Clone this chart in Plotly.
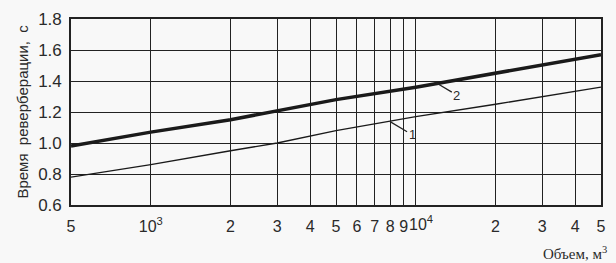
import math
import plotly.graph_objects as go

volumes = [500, 1000, 2000, 3000, 5000, 10000, 20000, 50000]
curve1 = [0.78, 0.86, 0.95, 1.00, 1.08, 1.17, 1.25, 1.36]
curve2 = [0.98, 1.07, 1.15, 1.21, 1.28, 1.36, 1.45, 1.57]

x_tickvals = [500, 1000, 2000, 3000, 4000, 5000, 6000, 7000, 8000, 9000, 10000, 20000, 30000, 40000, 50000]
x_ticktext = ["5", "10<sup>3</sup>", "2", "3", "4", "5", "6", "7", "8", "9", "", "2", "3", "4", "5"]
y_tickvals = [0.6, 0.8, 1.0, 1.2, 1.4, 1.6, 1.8]
y_ticktext = ["0.6", "0.8", "1.0", "1.2", "1.4", "1.6", "1.8"]

fig = go.Figure()
fig.add_trace(go.Scatter(x=volumes, y=curve1, mode="lines",
                         line=dict(color="#1a1a1a", width=1.3), showlegend=False))
fig.add_trace(go.Scatter(x=volumes, y=curve2, mode="lines",
                         line=dict(color="#1a1a1a", width=3.5), showlegend=False))

fig.update_layout(
    width=616, height=263,
    margin=dict(l=71, r=12, t=10, b=58),
    paper_bgcolor="#f8f8f8", plot_bgcolor="#f8f8f8",
    font=dict(family="Liberation Sans, Arial", color="#2a2a2a"),
    xaxis=dict(type="log", range=[math.log10(500), math.log10(50000)],
               tickvals=x_tickvals, ticktext=x_ticktext, tickangle=0,
               tickfont=dict(size=16, color="#2a2a2a"),
               showgrid=True, gridcolor="#222222", gridwidth=1.4,
               showline=True, linecolor="#222222", linewidth=1.6, mirror=True,
               ticks="outside", ticklen=6, tickcolor="rgba(0,0,0,0)",
               zeroline=False),
    yaxis=dict(range=[0.6, 1.8], tickvals=y_tickvals, ticktext=y_ticktext,
               tickfont=dict(size=17, color="#2a2a2a"),
               showgrid=True, gridcolor="#222222", gridwidth=1.4,
               showline=True, linecolor="#222222", linewidth=1.6, mirror=True,
               ticks="outside", ticklen=4, tickcolor="rgba(0,0,0,0)",
               zeroline=False),
)

# 10^4 tick label, nudged right so it abuts the "9" as in the original
fig.add_annotation(x=math.log10(10000), xref="x", yref="paper", y=0, yanchor="top",
                   xshift=5, yshift=-6, text="10<sup>4</sup>", showarrow=False,
                   font=dict(size=16, color="#2a2a2a"))

fig.add_annotation(xref="paper", yref="paper", x=-0.113, y=0.5,
                   text="Время  реверберации,  с", textangle=-90, showarrow=False,
                   font=dict(size=15, color="#2a2a2a", family="Liberation Sans, Arial"))
fig.add_annotation(xref="paper", yref="paper", x=1.015, y=-0.2, xanchor="right", yanchor="top",
                   text="Объем, м<sup>3</sup>", showarrow=False,
                   font=dict(size=15, color="#2a2a2a", family="Liberation Serif, Times New Roman"))

# curve labels
fig.add_annotation(x=math.log10(11800), y=1.393, text="2", showarrow=True,
                   arrowhead=0, arrowwidth=1.2, arrowcolor="#222222",
                   ax=22, ay=13, font=dict(size=13, color="#2a2a2a"))
fig.add_annotation(x=math.log10(8000), y=1.138, text="1", showarrow=True,
                   arrowhead=0, arrowwidth=1.2, arrowcolor="#222222",
                   ax=22, ay=13, font=dict(size=13, color="#2a2a2a"))

fig.write_html("out.html")
